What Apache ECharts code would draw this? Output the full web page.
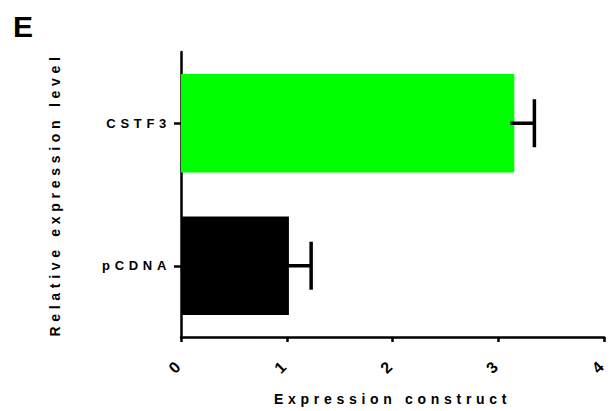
<!DOCTYPE html>
<html>
<head>
<meta charset="utf-8">
<script src="https://cdn.jsdelivr.net/npm/echarts@6/dist/echarts.min.js"></script>
<style>
  html, body { margin: 0; padding: 0; background: #fff; }
  #chart { width: 612px; height: 411px; }
  #chart svg text { letter-spacing: 4.7px; }
</style>
</head>
<body>
<div id="chart"></div>
<script>
const categories = ['pCDNA', 'CSTF3'];
const values = [1.02, 3.15];
const errors = [0.21, 0.19];
const barColors = ['#000000', '#00ff00'];
const xTicks = [0, 1, 2, 3, 4];
const panelLabel = 'E';
const xName = 'Expression construct';
const yName = 'Relative expression level';

const FONT = '"Liberation Sans", Arial, sans-serif';
const chart = echarts.init(document.getElementById('chart'), null, { renderer: 'svg' });

const option = {
  animation: false,
  backgroundColor: '#fff',
  graphic: [{
    type: 'text', left: 13, top: 11,
    style: { text: panelLabel, font: 'bold 30px ' + FONT, fill: '#000' }
  }],
  grid: { left: 181, right: 5, top: 52, bottom: 73, containLabel: false },
  xAxis: {
    type: 'value', min: xTicks[0], max: xTicks[xTicks.length - 1], interval: 1,
    name: xName, nameLocation: 'middle', nameGap: 55,
    nameTextStyle: { fontFamily: FONT, fontWeight: 'bold', fontSize: 14, color: '#000' },
    axisLine: { show: true, lineStyle: { color: '#000', width: 2.5 } },
    axisTick: { show: true, length: 5, lineStyle: { color: '#000', width: 2.5 } },
    axisLabel: { rotate: 45, margin: 24, fontFamily: FONT, fontWeight: 'bold', fontSize: 16, color: '#000' },
    splitLine: { show: false }
  },
  yAxis: {
    type: 'category', data: categories,
    name: yName, nameLocation: 'middle', nameGap: 119,
    nameTextStyle: { fontFamily: FONT, fontWeight: 'bold', fontSize: 14, color: '#000' },
    axisLine: { show: true, lineStyle: { color: '#000', width: 2.5 } },
    axisTick: { show: true, alignWithLabel: true, length: 7, lineStyle: { color: '#000', width: 2.5 } },
    axisLabel: { margin: 10, fontFamily: FONT, fontWeight: 'bold', fontSize: 13, color: '#000' },
    splitLine: { show: false }
  },
  series: [
    {
      type: 'bar', barCategoryGap: '31%',
      data: values.map((v, i) => ({ value: v, itemStyle: { color: barColors[i] } })),
      z: 2
    },
    {
      type: 'custom', z: 3,
      encode: { x: 0, y: 2 },
      data: values.map((v, i) => [v, errors[i], i]),
      renderItem: function (params, api) {
        const v = api.value(0), e = api.value(1), c = api.value(2);
        const p0 = api.coord([v, c]);
        const p1 = api.coord([v + e, c]);
        const h = 24;
        return {
          type: 'group',
          children: [
            { type: 'line', shape: { x1: p0[0] - 4, y1: p0[1], x2: p1[0], y2: p1[1] },
              style: { stroke: '#000', lineWidth: 3.5 } },
            { type: 'line', shape: { x1: p1[0], y1: p1[1] - h, x2: p1[0], y2: p1[1] + h },
              style: { stroke: '#000', lineWidth: 3.5 } }
          ]
        };
      }
    }
  ]
};
chart.setOption(option);
</script>
</body>
</html>
